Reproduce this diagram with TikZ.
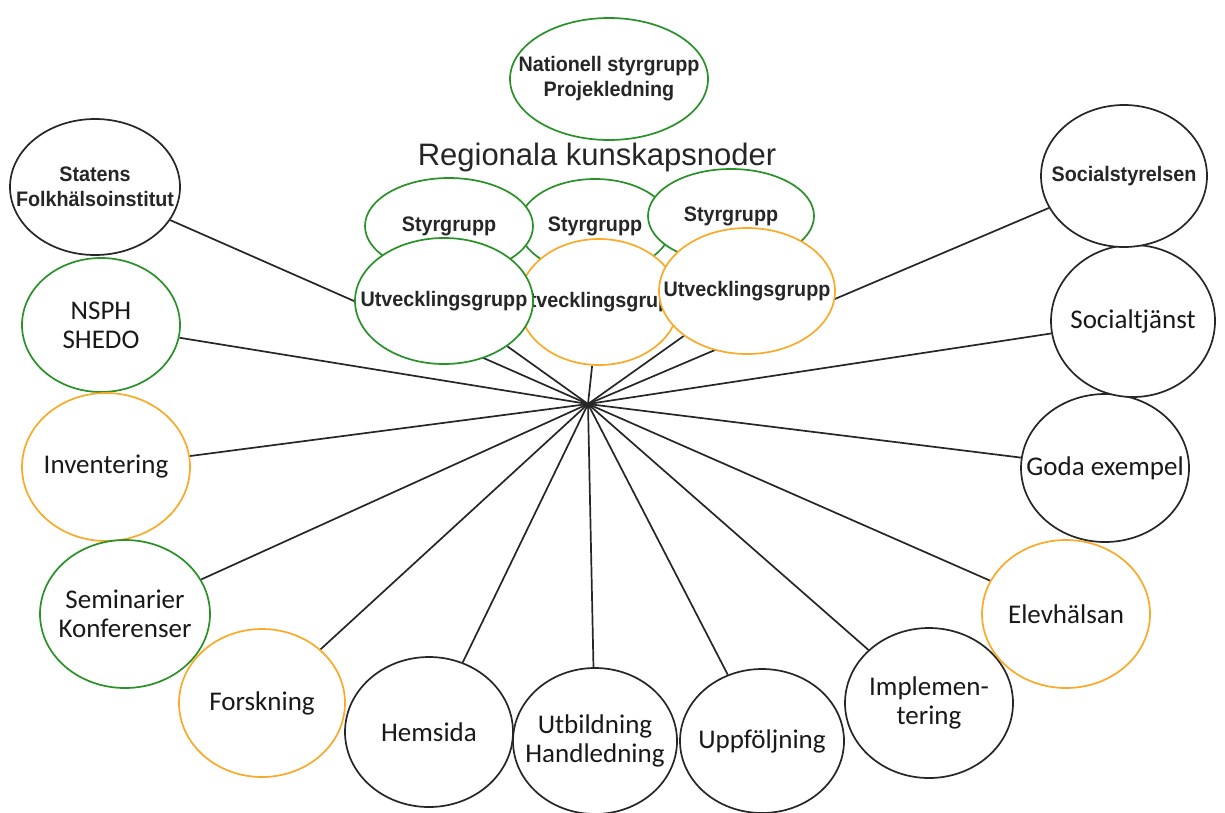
\documentclass[tikz,border=0pt]{standalone}
\usepackage{fontspec}
\newfontfamily\labfont{Carlito}
\newfontfamily\arlfont{Liberation Sans}
\newfontfamily\smlfont[FakeStretch=0.94]{Liberation Sans Bold}
\usetikzlibrary{shapes.geometric,backgrounds}
\definecolor{ggreen}{RGB}{40,145,40}
\definecolor{gorange}{RGB}{250,170,40}
\begin{document}
\begin{tikzpicture}[x=1pt,y=-1pt,
  bub/.style={ellipse, fill=white, line width=1.7pt, inner sep=0pt},
  blk/.style={bub, draw=black!85},
  grn/.style={bub, draw=ggreen},
  org/.style={bub, draw=gorange},
  big/.style={label={[font=\labfont\fontsize{27}{29}\selectfont, align=center, text=black!90]center:#1}},
  sml/.style={label={[font=\smlfont\fontsize{21}{25}\selectfont, align=center, text=black!85]center:#1}},
  link/.style={line width=1.7pt, draw=black!85}]
\useasboundingbox (0,0) rectangle (1225,812);
\coordinate (hub) at (588,404);
% top
\node[grn,sml={Nationell styrgrupp\\Projekledning},minimum width=198pt,minimum height=122pt] (nat) at (609,79) {};
\node[font=\arlfont\fontsize{31}{31}\selectfont, text=black!85] (reg) at (597,157) {Regionala kunskapsnoder};
% regional nodes
\node[grn,sml={Styrgrupp},minimum width=152pt,minimum height=94pt] (mstyr) at (595,226) {};
\node[grn,sml={Styrgrupp},minimum width=168pt,minimum height=96pt] (lstyr) at (449,226) {};
\node[grn,sml={Styrgrupp},minimum width=166pt,minimum height=94pt] (rstyr) at (731,216) {};
\node[org,sml={Utvecklingsgrupp},minimum width=160pt,minimum height=126pt] (mutv) at (599,302) {};
\node[grn,sml={Utvecklingsgrupp},minimum width=178pt,minimum height=126pt] (lutv) at (444,301) {};
\node[org,sml={Utvecklingsgrupp},minimum width=176pt,minimum height=126pt] (rutv) at (747,291) {};
% left column
\node[blk,sml={Statens\\Folkhälsoinstitut},minimum width=170pt,minimum height=136pt] (statens) at (95,187) {};
\node[grn,big={NSPH\\SHEDO},minimum width=158pt,minimum height=134pt] (nsph) at (101,325) {};
\node[org,big={Inventering},minimum width=168pt,minimum height=148pt] (inv) at (106,467) {};
\node[grn,big={Seminarier\\Konferenser},minimum width=170pt,minimum height=148pt] (sem) at (125,614) {};
\node[org,big={Forskning},minimum width=166pt,minimum height=148pt] (forsk) at (262,703) {};
% bottom
\node[blk,big={Hemsida},minimum width=168pt,minimum height=150pt] (hem) at (429,732) {};
\node[blk,big={Utbildning\\Handledning},minimum width=164pt,minimum height=146pt] (utb) at (595,741) {};
\node[blk,big={Uppföljning},minimum width=164pt,minimum height=144pt] (upp) at (762,741) {};
\node[blk,big={Implemen-\\tering},minimum width=168pt,minimum height=150pt] (impl) at (929,703) {};
% right column
\node[org,big={Elevhälsan},minimum width=168pt,minimum height=148pt] (elev) at (1066,614) {};
\node[blk,big={Goda exempel},minimum width=168pt,minimum height=148pt] (goda) at (1105,468) {};
\node[blk,big={Socialtjänst},minimum width=164pt,minimum height=152pt] (stj) at (1133,321) {};
\node[blk,sml={Socialstyrelsen},minimum width=166pt,minimum height=142pt] (sst) at (1124,176) {};
% connectors
\begin{pgfonlayer}{background}
\foreach \n in {statens,lutv,mutv,rutv,sst,nsph,stj,inv,goda,sem,elev,forsk,impl,hem,upp,utb}
  \draw[link] (hub) -- (\n);
\end{pgfonlayer}
\end{tikzpicture}
\end{document}
